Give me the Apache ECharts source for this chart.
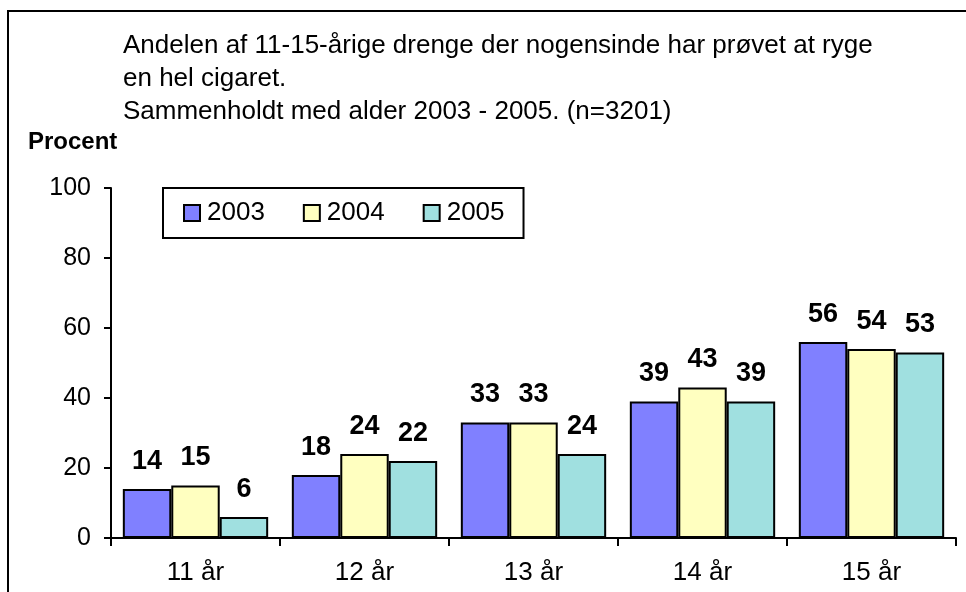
<!DOCTYPE html>
<html>
<head>
<meta charset="utf-8">
<script src="https://cdn.jsdelivr.net/npm/echarts@6/dist/echarts.min.js"></script>
<style>
    html, body { margin: 0; padding: 0; background: #fff; }
    #chart { width: 966px; height: 592px; }
</style>
</head>
<body>
<div id="chart"></div>
<script>
var categories = ['11 år', '12 år', '13 år', '14 år', '15 år'];
var years = ['2003', '2004', '2005'];
var values2003 = [14, 18, 33, 39, 56];
var values2004 = [15, 24, 33, 43, 54];
var values2005 = [6, 22, 24, 39, 53];
var yTicks = [0, 20, 40, 60, 80, 100];

var colors = ['#8080FF', '#FFFFC0', '#A0E0E0'];
var font = 'Arial, "Liberation Sans", sans-serif';

function makeSeries(name, data, color) {
    return {
        name: name,
        type: 'bar',
        data: data,
        barGap: '0%',
        barCategoryGap: '14%',
        itemStyle: {
            color: color,
            borderColor: '#000',
            borderWidth: 2
        },
        label: {
            show: true,
            position: 'top',
            distance: 14,
            color: '#000',
            fontFamily: font,
            fontWeight: 'bold',
            fontSize: 27
        }
    };
}

var option = {
    animation: false,
    backgroundColor: '#fff',
    title: {
        text: 'Andelen af 11-15-årige drenge der nogensinde har prøvet at ryge\nen hel cigaret.\nSammenholdt med alder 2003 - 2005. (n=3201)',
        left: 118,
        top: 24,
        textStyle: {
            fontFamily: font,
            fontWeight: 'normal',
            fontSize: 26,
            lineHeight: 33,
            color: '#000'
        }
    },
    legend: {
        data: years,
        left: 163,
        top: 188,
        orient: 'horizontal',
        padding: [12, 19, 12, 20],
        itemGap: 38,
        itemWidth: 16,
        itemHeight: 16,
        borderColor: '#000',
        borderWidth: 2,
        icon: 'rect',
        textStyle: {
            fontFamily: font,
            fontSize: 26,
            color: '#000',
            padding: [0, 0, 0, 2]
        }
    },
    grid: {
        left: 111,
        top: 188,
        right: 10,
        bottom: 54,
        containLabel: false
    },
    xAxis: {
        type: 'category',
        data: categories,
        axisLine: { lineStyle: { color: '#000', width: 2 } },
        axisTick: { show: true, length: 8, lineStyle: { color: '#000', width: 2 } },
        axisLabel: {
            color: '#000',
            fontFamily: font,
            fontSize: 26,
            margin: 22
        },
        splitLine: { show: false }
    },
    yAxis: {
        type: 'value',
        min: yTicks[0],
        max: yTicks[yTicks.length - 1],
        interval: 20,
        name: 'Procent',
        nameLocation: 'end',
        nameGap: 34,
        nameTextStyle: {
            color: '#000',
            fontFamily: font,
            fontWeight: 'bold',
            fontSize: 24,
            align: 'left',
            padding: [0, 0, 0, -83]
        },
        axisLine: { show: true, lineStyle: { color: '#000', width: 2 } },
        axisTick: { show: true, length: 7, lineStyle: { color: '#000', width: 2 } },
        axisLabel: {
            color: '#000',
            fontFamily: font,
            fontSize: 25,
            margin: 20
        },
        splitLine: { show: false }
    },
    graphic: [{
        type: 'rect',
        shape: { x: 8, y: 11, width: 1200, height: 800 },
        style: { fill: 'none', stroke: '#000', lineWidth: 2 },
        silent: true
    }],
    series: [
        makeSeries(years[0], values2003, colors[0]),
        makeSeries(years[1], values2004, colors[1]),
        makeSeries(years[2], values2005, colors[2])
    ]
};

var chart = echarts.init(document.getElementById('chart'));
chart.setOption(option);
</script>
</body>
</html>
